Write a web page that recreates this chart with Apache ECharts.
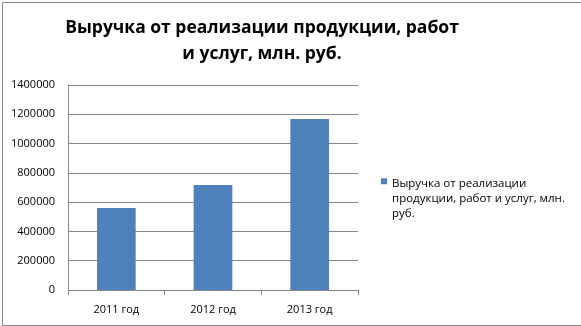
<!DOCTYPE html>
<html><head><meta charset="utf-8">
<script src="https://cdn.jsdelivr.net/npm/echarts@6/dist/echarts.min.js"></script>
<style>html,body{margin:0;padding:0;background:#fff}#c{width:581px;height:326px}</style>
</head><body><div id="c"></div>
<script>
const titleText = 'Выручка от реализации продукции, работ\nи услуг, млн. руб.';
const categories = ['2011 год', '2012 год', '2013 год'];
const seriesName = 'Выручка от реализации продукции, работ и услуг, млн. руб.';
const legendLabel = 'Выручка от реализации\nпродукции, работ и услуг, млн.\nруб.';
const values = [560000, 717000, 1168000];
const yTicks = [0, 200000, 400000, 600000, 800000, 1000000, 1200000, 1400000];

const chart = echarts.init(document.getElementById('c'), null, {renderer: 'canvas'});
chart.setOption({
  animation: false,
  backgroundColor: '#fff',
  textStyle: {fontFamily: 'Open Sans'},
  title: {
    text: titleText, left: 257, top: 10, itemGap: 0, textAlign: 'center',
    textStyle: {fontFamily: 'Open Sans', fontWeight: 'bold', fontSize: 17.5, lineHeight: 26, color: '#000'}
  },
  legend: {
    show: true, orient: 'vertical', left: 376, top: 171,
    itemWidth: 6, itemHeight: 45, itemGap: 5,
    icon: 'path://M0,4.5h6v6h-6zM0,45h0.01v0.01h-0.01z',
    formatter: () => legendLabel,
    textStyle: {fontFamily: 'Open Sans', fontSize: 11.5, lineHeight: 15, color: '#000'},
    data: [seriesName]
  },
  grid: {left: 68, right: 223, top: 85, bottom: 36, containLabel: false},
  xAxis: {
    type: 'category', data: categories,
    axisLine: {lineStyle: {color: '#868686'}},
    axisTick: {show: true, length: 5, lineStyle: {color: '#868686'}},
    axisLabel: {color: '#000', fontSize: 11, margin: 14, fontFamily: 'Open Sans'}
  },
  yAxis: {
    type: 'value', min: yTicks[0], max: yTicks[yTicks.length - 1], interval: 200000,
    axisLine: {show: true, lineStyle: {color: '#868686'}},
    axisTick: {show: false},
    splitLine: {lineStyle: {color: '#868686'}},
    axisLabel: {color: '#000', fontSize: 11, margin: 13, fontFamily: 'Open Sans', formatter: v => String(v)}
  },
  series: [{
    name: seriesName, type: 'bar', data: values, barWidth: '40%',
    itemStyle: {color: '#4f81bd'}
  }],
  graphic: [{
    type: 'rect', left: 0, top: 0, silent: true,
    shape: {x: 0.5, y: 0.5, width: 579, height: 323},
    style: {fill: 'none', stroke: '#868686', lineWidth: 1}
  }]
});
</script></body></html>
